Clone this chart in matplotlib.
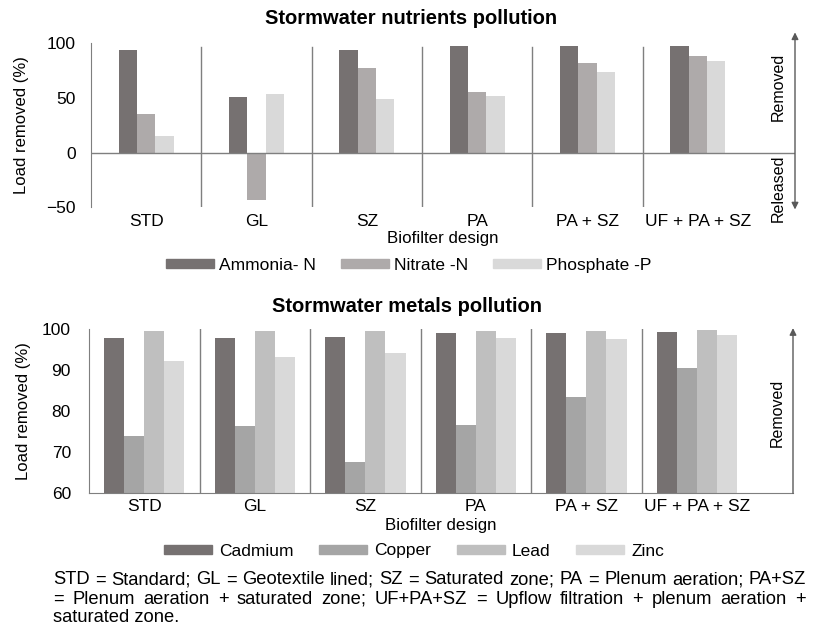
import matplotlib
matplotlib.use("Agg")
import matplotlib.pyplot as plt
from matplotlib.patches import Patch
import numpy as np

plt.rcParams['font.family'] = ['Liberation Sans', 'DejaVu Sans']

designs = ["STD", "GL", "SZ", "PA", "PA + SZ", "UF + PA + SZ"]

nutrient_names = ["Ammonia- N", "Nitrate -N", "Phosphate -P"]
ammonia = [94, 50.5, 94, 97.6, 97.6, 97.6]
nitrate = [35.5, -43.5, 77, 55.5, 82, 88]
phosphate = [15.5, 54, 49.5, 52, 74, 84]

metal_names = ["Cadmium", "Copper", "Lead", "Zinc"]
cadmium = [97.8, 97.8, 98.0, 99.0, 99.0, 99.3]
copper = [74.0, 76.5, 67.6, 76.7, 83.4, 90.6]
lead = [99.7, 99.7, 99.5, 99.7, 99.7, 99.9]
zinc = [92.3, 93.2, 94.1, 97.8, 97.6, 98.6]

footnote_lines = [
    "STD = Standard; GL = Geotextile lined; SZ = Saturated zone; PA = Plenum aeration; PA+SZ",
    "= Plenum aeration + saturated zone; UF+PA+SZ = Upflow filtration + plenum aeration +",
    "saturated zone.",
]

nut_colors = ["#767171", "#AEAAAA", "#D9D9D9"]
met_colors = ["#767171", "#A5A5A5", "#BFBFBF", "#D9D9D9"]
axcol = "#7F7F7F"
FT = 12.5   # tick / legend text
FY = 12     # y label

W, H = 818, 634
fig = plt.figure(figsize=(W / 100, H / 100), dpi=100)

def fx(px):
    return px / W

def fy(py):
    return 1 - py / H

# ---------------- top chart ----------------
ax1 = fig.add_axes([fx(91), fy(207.3), fx(795) - fx(91), fy(43.3) - fy(207.3)])
x = np.arange(len(designs))
bw = 1 / 6
for i, (vals, c) in enumerate(zip([ammonia, nitrate, phosphate], nut_colors)):
    ax1.bar(x + (i - 1) * bw, vals, width=bw, color=c, label=nutrient_names[i], zorder=2)
ax1.set_xlim(-0.5, 5.88)
ax1.set_ylim(-50, 100)
ax1.set_yticks([-50, 0, 50, 100])
ax1.set_xticks(x)
ax1.set_xticklabels(designs)
ax1.tick_params(axis='both', length=0, labelsize=FT, colors="black")
ax1.tick_params(axis='x', pad=5)
ax1.tick_params(axis='y', pad=11)
for s in ["top", "right", "bottom"]:
    ax1.spines[s].set_visible(False)
ax1.spines["left"].set_color(axcol)
ax1.axhline(0, color=axcol, lw=1, zorder=3)
for k in range(1, 6):
    ax1.plot([k - 0.5, k - 0.5], [-50, 97], color=axcol, lw=1, zorder=1)
ax1.set_ylabel("Load removed (%)", fontsize=FY)
ax1.yaxis.set_label_coords((29 - 91) / 704, 0.5)
ax1.set_xlabel("Biofilter design", fontsize=FT - 0.3, labelpad=1)
fig.text(fx(411), fy(19), "Stormwater nutrients pollution", fontsize=14.5,
         fontweight="bold", ha="center", va="center")
# double arrow
ax1.annotate("", xy=(5.88, 110), xytext=(5.88, -52), xycoords="data",
             arrowprops=dict(arrowstyle="<|-|>", color="#595959", lw=1, mutation_scale=10,
                             shrinkA=0, shrinkB=0), annotation_clip=False)
ax1.text(5.73, 60, "Removed", rotation=90, ha="center", va="center", fontsize=11.5)
ax1.text(5.73, -32.5, "Released", rotation=90, ha="center", va="center", fontsize=11.5)

h1 = [Patch(color=c) for c in nut_colors]
fig.legend(h1, nutrient_names, loc="center", bbox_to_anchor=(fx(409), fy(265)), ncol=3,
           frameon=False, fontsize=FT, handlelength=2.75, handleheight=0.42,
           columnspacing=1.45, handletextpad=0.3)

# ---------------- bottom chart ----------------
ax2 = fig.add_axes([fx(89), fy(493.3), fx(793) - fx(89), fy(329.3) - fy(493.3)])
bw2 = 0.182
for i, (vals, c) in enumerate(zip([cadmium, copper, lead, zinc], met_colors)):
    ax2.bar(x + (i - 1.5) * bw2, vals, width=bw2, color=c, label=metal_names[i], zorder=2)
ax2.set_xlim(-0.5, 5.87)
ax2.set_ylim(60, 100)
ax2.set_yticks([60, 70, 80, 90, 100])
ax2.set_xticks(x)
ax2.set_xticklabels(designs)
ax2.tick_params(axis='both', length=0, labelsize=FT, colors="black")
ax2.tick_params(axis='x', pad=4)
ax2.tick_params(axis='y', pad=13)
for s in ["top", "right"]:
    ax2.spines[s].set_visible(False)
ax2.spines["left"].set_color(axcol)
ax2.spines["bottom"].set_color(axcol)
for k in range(1, 6):
    ax2.plot([k - 0.5, k - 0.5], [60, 100], color=axcol, lw=1, zorder=1)
ax2.set_ylabel("Load removed (%)", fontsize=FY)
ax2.yaxis.set_label_coords((31 - 89) / 704, 0.5)
ax2.set_xlabel("Biofilter design", fontsize=FT - 0.3, labelpad=3)
fig.text(fx(407), fy(307), "Stormwater metals pollution", fontsize=14.5,
         fontweight="bold", ha="center", va="center")
ax2.annotate("", xy=(5.87, 100.3), xytext=(5.87, 60), xycoords="data",
             arrowprops=dict(arrowstyle="-|>", color="#595959", lw=1, mutation_scale=10,
                             shrinkA=0, shrinkB=0), annotation_clip=False)
ax2.text(5.73, 79.6, "Removed", rotation=90, ha="center", va="center", fontsize=11.5)

h2 = [Patch(color=c) for c in met_colors]
fig.legend(h2, metal_names, loc="center", bbox_to_anchor=(fx(414), fy(551)), ncol=4,
           frameon=False, fontsize=FT, handlelength=2.75, handleheight=0.42,
           columnspacing=1.5, handletextpad=0.4)

# ---------------- footnote (justified) ----------------
fig.canvas.draw()
renderer = fig.canvas.get_renderer()
x0, x1 = 53, 806
line_y = [580, 599, 618]
fnsize = 13.5

def measure(s, size):
    t = fig.text(0, 0, s, fontsize=size)
    w = t.get_window_extent(renderer).width
    t.remove()
    return w

# shrink the size until the longest justified line fits naturally
while measure(footnote_lines[0], fnsize) > (x1 - x0) and fnsize > 8:
    fnsize -= 0.25

for li, (line, yy) in enumerate(zip(footnote_lines, line_y)):
    if li < len(footnote_lines) - 1:
        words = line.split(" ")
        texts = []
        widths = []
        for w_ in words:
            t = fig.text(0, fy(yy), w_, fontsize=fnsize, va="center", ha="left")
            texts.append(t)
            widths.append(t.get_window_extent(renderer).width)
        gap = (x1 - x0 - sum(widths)) / (len(words) - 1)
        cx = x0
        for t, wd in zip(texts, widths):
            t.set_x(fx(cx))
            cx += wd + gap
    else:
        fig.text(fx(x0), fy(yy), line, fontsize=fnsize, va="center", ha="left")

fig.savefig("out.png", dpi=100)
